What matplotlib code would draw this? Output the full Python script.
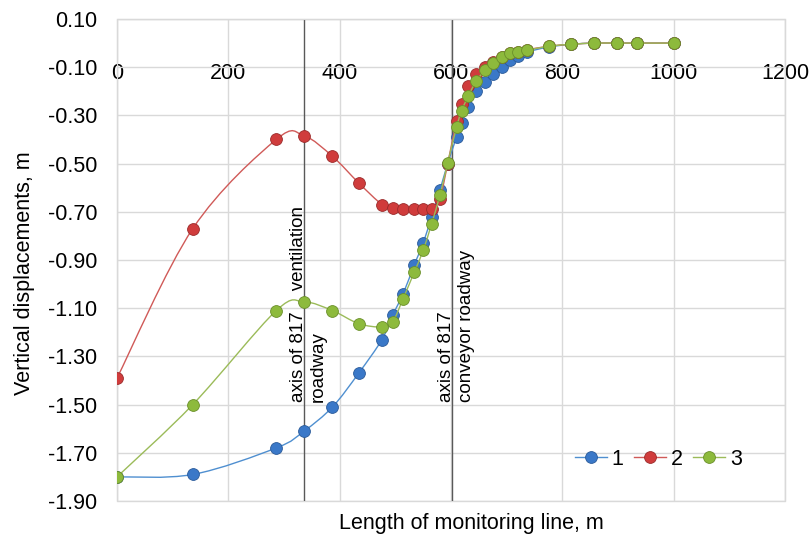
import numpy as np
import matplotlib
matplotlib.use("Agg")
import matplotlib.pyplot as plt
from matplotlib.path import Path
from matplotlib.patches import PathPatch
from matplotlib.lines import Line2D

plt.rcParams['font.family'] = ['Liberation Sans', 'DejaVu Sans']

# distance along monitoring line, m
dist = [0, 136, 286, 336, 387, 434, 476, 495, 514, 534, 550, 565, 580, 594,
        610, 619, 631, 645, 661, 676, 691, 706, 721, 736, 776, 816, 856, 898,
        934, 1000]

# vertical displacements, m
s1 = [-1.80, -1.79, -1.68, -1.61, -1.51, -1.37, -1.23, -1.13, -1.04, -0.92,
      -0.83, -0.72, -0.61, -0.50, -0.39, -0.33, -0.265, -0.20, -0.16, -0.127,
      -0.099, -0.069, -0.052, -0.037, -0.016, -0.005, 0.0, 0.0, 0.0, 0.0]
s2 = [-1.39, -0.77, -0.40, -0.385, -0.47, -0.58, -0.67, -0.683, -0.687,
      -0.687, -0.687, -0.687, -0.645, -0.50, -0.323, -0.251, -0.18, -0.13,
      -0.10, -0.078, -0.057, -0.043, -0.035, -0.028, -0.013, -0.005, 0.0,
      0.0, 0.0, 0.0]
s3 = [-1.80, -1.50, -1.11, -1.074, -1.11, -1.164, -1.178, -1.157, -1.06,
      -0.95, -0.86, -0.75, -0.632, -0.497, -0.348, -0.28, -0.22, -0.158,
      -0.113, -0.083, -0.057, -0.043, -0.037, -0.030, -0.013, -0.005, 0.0,
      0.0, 0.0, 0.0]

series_labels = ['1', '2', '3']
line_colors = ['#4f8fd0', '#d05a58', '#9bbb59']
face_colors = ['#3a78c8', '#d03c3c', '#8dba3c']
edge_colors = ['#2a5a99', '#9a2a2a', '#6a8f2a']

roadways = [(336, "axis of 817    ventilation\nroadway"),
            (602, "axis of 817\nconveyor roadway")]


def smooth_path(x, y, t=1.0 / 6):
    # bezier segments like a spreadsheet "smoothed line"
    p = np.column_stack([x, y]).astype(float)
    n = len(p)
    verts = [p[0]]
    codes = [Path.MOVETO]
    for i in range(n - 1):
        p0 = p[i - 1] if i > 0 else p[i]
        p3 = p[i + 2] if i + 2 < n else p[i + 1]
        c1 = p[i] + (p[i + 1] - p0) * t
        c2 = p[i + 1] - (p3 - p[i]) * t
        verts += [c1, c2, p[i + 1]]
        codes += [Path.CURVE4] * 3
    return Path(verts, codes)


fig = plt.figure(figsize=(8.11, 5.35), dpi=100)
ax = fig.add_axes([0.1443, 0.0636, 0.8237, 0.9009])

handles = []
for k, ys in enumerate([s1, s2, s3]):
    patch = PathPatch(smooth_path(dist, ys), fill=False,
                      edgecolor=line_colors[k], lw=1.0, zorder=3 + k)
    ax.add_patch(patch)
    ax.plot(dist, ys, 'o', ms=8.5, mfc=face_colors[k], mec=edge_colors[k],
            mew=0.6, zorder=3 + k)
    handles.append(Line2D([], [], color=line_colors[k], lw=1.0, marker='o',
                          ms=8.5, mfc=face_colors[k], mec=edge_colors[k],
                          mew=0.6))

for xr, txt in roadways:
    ax.axvline(xr, color='#595959', lw=1.0, zorder=2)
    ax.text(xr + 8, -1.49, txt, rotation=90, ha='center', va='bottom',
            multialignment='left', fontsize=13.5, linespacing=1.25, zorder=6)

ax.set_xlim(0, 1200)
ax.set_ylim(-1.90, 0.10)
ax.set_xticks(np.arange(0, 1201, 200))
ax.set_yticks(np.arange(0.10, -1.91, -0.2))
ax.yaxis.set_major_formatter(matplotlib.ticker.FormatStrFormatter('%.2f'))
ax.grid(True, color='#d9d9d9', lw=1.0, zorder=0)
ax.set_axisbelow(True)

ax.spines['bottom'].set_position(('data', 0))
ax.spines['bottom'].set_color('none')
for s in ['left', 'right', 'top']:
    ax.spines[s].set_color('#d9d9d9')
ax.patch.set_edgecolor('#d9d9d9')
ax.patch.set_linewidth(1.0)
ax.tick_params(axis='both', length=0, labelsize=15.5)
ax.tick_params(axis='x', pad=14)
ax.tick_params(axis='y', pad=14)

ax.set_xlabel('Length of monitoring line, m', fontsize=15.5)
ax.xaxis.set_label_coords(0.53, -0.025)
ax.set_ylabel('Vertical displacements, m', fontsize=15.5)
ax.yaxis.set_label_coords(-0.123, 0.473)

ax.legend(handles, series_labels, loc='center', bbox_to_anchor=(0.81, 0.087),
          ncol=3, frameon=False, fontsize=15.5, handlelength=1.5,
          handletextpad=0.2, columnspacing=0.5)

fig.savefig('out.png', dpi=100)
